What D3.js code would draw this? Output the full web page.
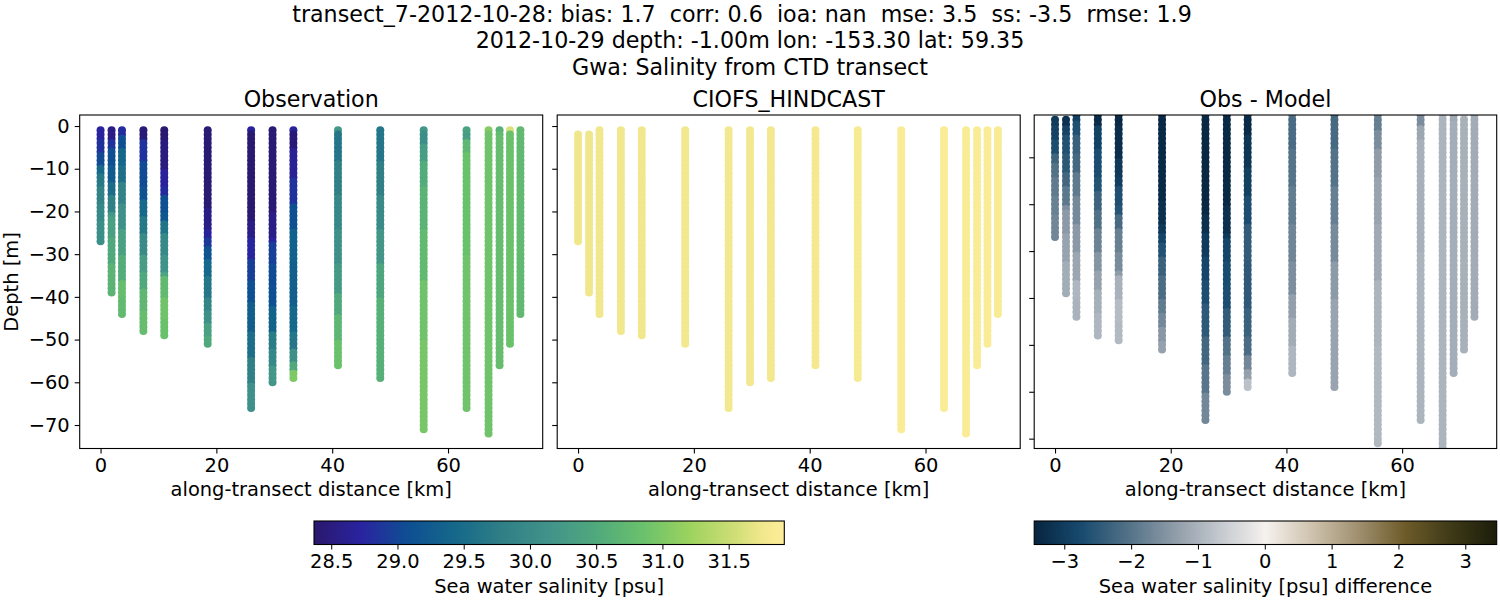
<!DOCTYPE html>
<html>
<head>
<meta charset="utf-8">
<script src="https://cdn.jsdelivr.net/npm/d3@7"></script>
<style>
    body { margin: 0; background: #fff; }
    text { font-family: "DejaVu Sans", sans-serif; fill: #000; white-space: pre; }
    .tick text { font-size: 19.44px; }
    .label { font-size: 19.44px; }
    .title { font-size: 22.2px; }
</style>
</head>
<body>
<div class="chart"></div>
<script>
// Data
const titleLines = [
    'transect_7-2012-10-28: bias: 1.7  corr: 0.6  ioa: nan  mse: 3.5  ss: -3.5  rmse: 1.9',
    '2012-10-29 depth: -1.00m lon: -153.30 lat: 59.35',
    'Gwa: Salinity from CTD transect'
];
const panelTitles = ['Observation', 'CIOFS_HINDCAST', 'Obs - Model'];

const distances = [0, 1.9, 3.7, 7.4, 11, 18.5, 26, 29.7, 33.3, 41, 48.3, 55.8, 63.2, 67, 68.9, 70.7, 72.5];
const maxDepths = [27, 39, 44, 48, 49, 51, 66, 60, 59, 56, 59, 71, 66, 72, 56, 51, 44];
const modelStartDepths = [2, 2, 1, 1, 1, 1, 1, 1, 1, 1, 1, 1, 1, 1, 1, 1, 1];
const modelValues = [31.74, 31.74, 31.75, 31.75, 31.76, 31.77, 31.78, 31.78, 31.78, 31.8, 31.82, 31.88, 31.88, 31.88, 31.88, 31.88, 31.85];

// observed salinity per station as [deepest metre of the band, psu]
const obsBands = [
    [[3, 28.72], [6, 28.85], [9, 29.05], [11, 29.45], [14, 29.7], [18, 29.85], [22, 29.95], [27, 30.05]],
    [[3, 28.55], [5, 28.85], [9, 29.1], [13, 29.25], [16, 29.5], [20, 29.8], [21, 30.2], [26, 30.35], [32, 30.5], [39, 30.65]],
    [[2, 28.8], [5, 29.1], [9, 29.4], [13, 29.55], [18, 29.85], [24, 30.1], [30, 30.35], [36, 30.55], [40, 30.8], [44, 30.75]],
    [[3, 28.45], [8, 28.85], [14, 29.05], [17, 29.15], [21, 29.45], [25, 29.7], [30, 30.0], [34, 30.3], [38, 30.5], [43, 30.7], [48, 30.8]],
    [[3, 28.4], [10, 28.5], [14, 28.7], [16, 28.8], [20, 29.1], [22, 29.2], [25, 29.6], [30, 29.95], [34, 30.15], [35, 30.4], [40, 30.75], [45, 30.9], [49, 30.85]],
    [[19, 28.42], [24, 28.55], [26, 28.7], [28, 28.9], [31, 29.15], [35, 29.45], [40, 29.65], [43, 29.9], [46, 30.1], [49, 30.35], [51, 30.5]],
    [[1, 28.7], [22, 28.4], [26, 28.55], [31, 28.75], [36, 28.95], [41, 29.1], [48, 29.3], [54, 29.55], [60, 29.8], [66, 30.1]],
    [[20, 28.42], [26, 28.55], [27, 28.7], [32, 28.95], [37, 29.05], [42, 29.1], [48, 29.35], [52, 29.75], [56, 29.95], [60, 30.2]],
    [[1, 28.7], [5, 28.45], [12, 28.65], [18, 28.85], [24, 29.1], [32, 29.35], [42, 29.3], [48, 29.45], [52, 29.65], [55, 30.1], [57, 30.5], [59, 31.0]],
    [[1, 30.2], [8, 29.65], [16, 29.8], [24, 29.95], [32, 30.1], [39, 30.25], [44, 30.5], [50, 30.7], [56, 30.85]],
    [[8, 29.65], [16, 29.8], [24, 30.0], [32, 30.2], [40, 30.45], [59, 30.6]],
    [[1, 30.2], [4, 30.05], [8, 30.3], [14, 30.55], [24, 30.65], [36, 30.75], [50, 30.9], [71, 30.95]],
    [[1, 30.4], [3, 30.3], [6, 30.7], [30, 30.85], [66, 30.9]],
    [[1, 31.05], [72, 30.9]],
    [[1, 30.6], [2, 30.75], [56, 30.8]],
    [[1, 31.6], [51, 30.85]],
    [[44, 30.75]]
];

const xTicks = [0, 20, 40, 60];
const yTicks = [0, -10, -20, -30, -40, -50, -60, -70];
const salinityTicks = [28.5, 29, 29.5, 30, 30.5, 31, 31.5];
const diffTicks = [-3, -2, -1, 0, 1, 2, 3];

// colormap anchors (position along the bar, colour)
const halineStops = [0, 0.1, 0.2, 0.3, 0.4, 0.5, 0.6, 0.7, 0.8, 0.9, 0.95, 1];
const halineColors = ['#2a186c', '#2a23a0', '#0e4f93', '#15688a', '#2f7f86', '#41938a', '#50a97c', '#6ac16c', '#9dd35e', '#d2df78', '#f0e78c', '#fdee99'];
const diffStops = [0, 0.1, 0.2, 0.3, 0.4, 0.5, 0.6, 0.7, 0.8, 0.9, 1];
const diffColors = ['#07243f', '#174a6e', '#507086', '#8d9aa7', '#c3c8ce', '#f5f1ee', '#cfc3ae', '#a09070', '#6e5c2a', '#3f3a18', '#1b1d0a'];

const salinityDomain = [28.37, 31.92];
const diffDomain = [-3.45, 3.47];

// Build the point tables
const expandBands = (bands, start) => {
    const points = [];
    let from = 1;
    bands.forEach(([end, value]) => {
        for (let depth = from; depth <= end; depth++) {
            if (depth >= start) points.push({ depth, value });
        }
        from = end + 1;
    });
    return points;
};

const obsPoints = [];
const modelPoints = [];
const diffPoints = [];
distances.forEach((distance, i) => {
    expandBands(obsBands[i], 1).forEach(p => {
        obsPoints.push({ distance, depth: -p.depth, value: p.value });
    });
    expandBands(obsBands[i], modelStartDepths[i]).forEach(p => {
        modelPoints.push({ distance, depth: -p.depth, value: modelValues[i] });
        diffPoints.push({ distance, depth: -p.depth, value: p.value - modelValues[i] });
    });
});

const xAccessor = d => d.distance;
const yAccessor = d => d.depth;

// Dimensions
const dimensions = {
    width: 1500,
    height: 600,
    panelTop: 115,
    panelBottom: 448.5,
    barTop: 521,
    barBottom: 544.5,
    markerRadius: 4
};

// Color scales
const makeColorScale = (domain, stops, colors) => d3.scaleLinear()
    .domain(stops.map(s => domain[0] + s * (domain[1] - domain[0])))
    .range(colors)
    .clamp(true);

const salinityColor = makeColorScale(salinityDomain, halineStops, halineColors);
const diffColor = makeColorScale(diffDomain, diffStops, diffColors);

// Draw SVG
const svg = d3.select('.chart')
    .append('svg')
    .attr('width', dimensions.width)
    .attr('height', dimensions.height)
    .style('display', 'block');

const defs = svg.append('defs');

svg.selectAll('.title')
    .data(titleLines)
    .join('text')
    .attr('class', 'title')
    .attr('x', (d, i) => i === 0 ? 742 : 750)
    .attr('y', (d, i) => 22 + i * 26.3)
    .attr('text-anchor', 'middle')
    .text(d => d);

const panels = [
    { left: 79.7, right: 542.7, points: obsPoints, color: salinityColor, yDomain: [-75.5, 2.58], labels: true },
    { left: 557.2, right: 1020.2, points: modelPoints, color: salinityColor, yDomain: [-75.5, 2.58], labels: false },
    { left: 1034.2, right: 1496.7, points: diffPoints, color: diffColor, yDomain: [-72.1, -0.98], labels: false }
];

const formatMinus = d => d3.format('d')(d).replace('-', '\u2212');

panels.forEach((panel, i) => {
    const xScale = d3.scaleLinear()
        .domain([-3.6, 76.35])
        .range([panel.left, panel.right]);

    const yScale = d3.scaleLinear()
        .domain(panel.yDomain)
        .range([dimensions.panelBottom, dimensions.panelTop]);

    defs.append('clipPath')
        .attr('id', `clip-${i}`)
        .append('rect')
        .attr('x', panel.left)
        .attr('y', dimensions.panelTop)
        .attr('width', panel.right - panel.left)
        .attr('height', dimensions.panelBottom - dimensions.panelTop);

    // Draw points, deeper ones on top
    svg.append('g')
        .attr('clip-path', `url(#clip-${i})`)
        .selectAll('circle')
        .data(panel.points)
        .join('circle')
        .attr('cx', d => xScale(xAccessor(d)))
        .attr('cy', d => yScale(yAccessor(d)))
        .attr('r', dimensions.markerRadius)
        .attr('fill', d => panel.color(d.value));

    // Axis
    const xAxis = d3.axisBottom(xScale)
        .tickValues(xTicks)
        .tickFormat(formatMinus)
        .tickSize(5)
        .tickPadding(5);

    const yAxis = d3.axisLeft(yScale)
        .tickValues(panel.yDomain[1] < 0 ? yTicks.slice(1) : yTicks)
        .tickFormat(panel.labels ? formatMinus : '')
        .tickSize(5)
        .tickPadding(5);

    svg.append('g')
        .attr('transform', `translate(0, ${dimensions.panelBottom})`)
        .call(xAxis)
        .call(g => g.select('.domain').remove());

    svg.append('g')
        .attr('transform', `translate(${panel.left}, 0)`)
        .call(yAxis)
        .call(g => g.select('.domain').remove());

    svg.selectAll('.tick line').attr('stroke-width', 1.1);

    svg.append('rect')
        .attr('x', panel.left)
        .attr('y', dimensions.panelTop)
        .attr('width', panel.right - panel.left)
        .attr('height', dimensions.panelBottom - dimensions.panelTop)
        .attr('fill', 'none')
        .attr('stroke', '#000')
        .attr('stroke-width', 1.1);

    svg.append('text')
        .attr('class', 'title')
        .attr('x', (panel.left + panel.right) / 2)
        .attr('y', 107)
        .attr('text-anchor', 'middle')
        .text(panelTitles[i]);

    svg.append('text')
        .attr('class', 'label')
        .attr('x', (panel.left + panel.right) / 2)
        .attr('y', 496)
        .attr('text-anchor', 'middle')
        .text('along-transect distance [km]');
});

svg.append('text')
    .attr('class', 'label')
    .attr('transform', 'translate(18, 282) rotate(-90)')
    .attr('text-anchor', 'middle')
    .text('Depth [m]');

// Colorbars
const colorbars = [
    { id: 'bar-salinity', left: 314, right: 784.3, domain: salinityDomain, stops: halineStops, colors: halineColors, ticks: salinityTicks, format: d3.format('.1f'), label: 'Sea water salinity [psu]' },
    { id: 'bar-diff', left: 1034.2, right: 1496.7, domain: diffDomain, stops: diffStops, colors: diffColors, ticks: diffTicks, format: formatMinus, label: 'Sea water salinity [psu] difference' }
];

colorbars.forEach(bar => {
    const gradient = defs.append('linearGradient').attr('id', bar.id);
    gradient.selectAll('stop')
        .data(bar.stops)
        .join('stop')
        .attr('offset', d => d)
        .attr('stop-color', (d, i) => bar.colors[i]);

    svg.append('rect')
        .attr('x', bar.left)
        .attr('y', dimensions.barTop)
        .attr('width', bar.right - bar.left)
        .attr('height', dimensions.barBottom - dimensions.barTop)
        .attr('fill', `url(#${bar.id})`)
        .attr('stroke', '#000')
        .attr('stroke-width', 1.1);

    const barScale = d3.scaleLinear()
        .domain(bar.domain)
        .range([bar.left, bar.right]);

    svg.append('g')
        .attr('transform', `translate(0, ${dimensions.barBottom})`)
        .call(d3.axisBottom(barScale).tickValues(bar.ticks).tickFormat(bar.format).tickSize(5).tickPadding(5))
        .call(g => g.select('.domain').remove());

    svg.append('text')
        .attr('class', 'label')
        .attr('x', (bar.left + bar.right) / 2)
        .attr('y', 593)
        .attr('text-anchor', 'middle')
        .text(bar.label);
});
</script>
</body>
</html>
